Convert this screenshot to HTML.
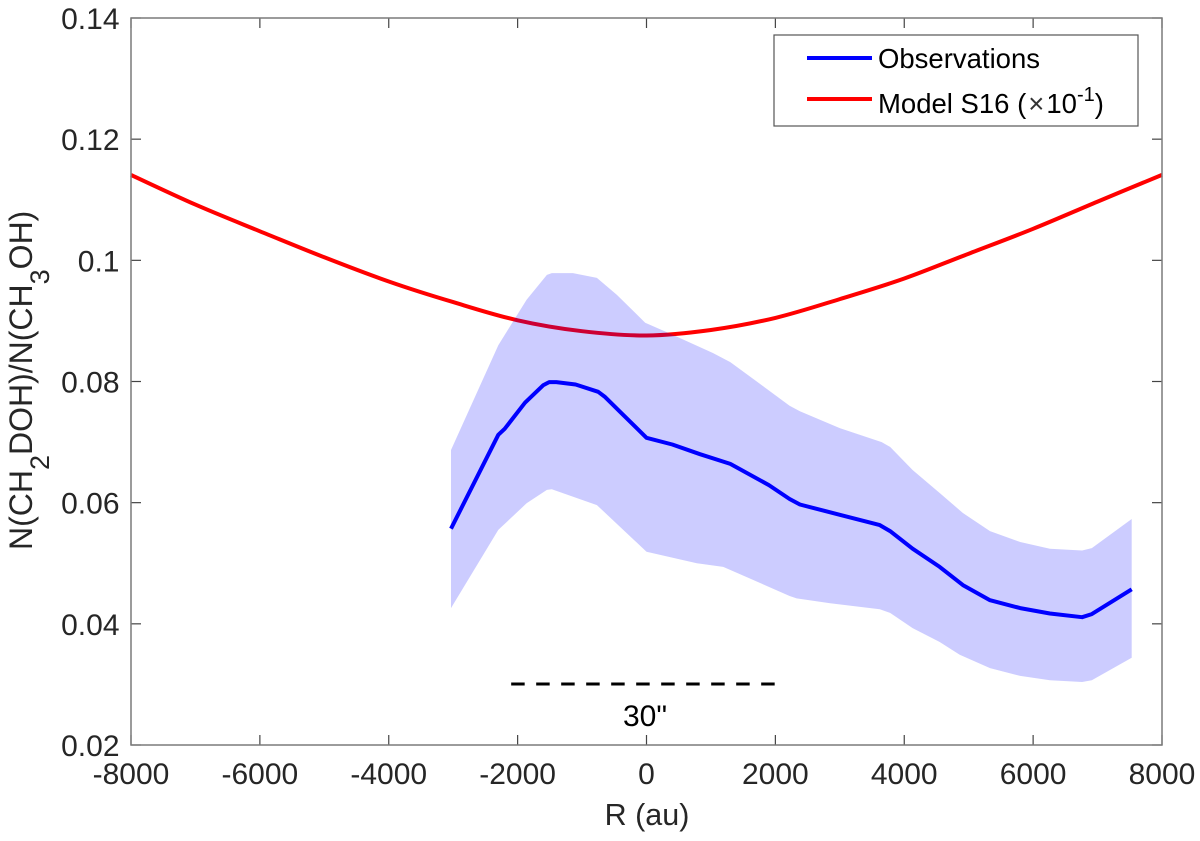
<!DOCTYPE html>
<html lang="en">
<head>
<meta charset="utf-8">
<title>Deuteration ratio profile</title>
<style>
html,body{margin:0;padding:0;background:#fff;}
svg{display:block;font-family:"Liberation Sans",Arial,sans-serif;}
</style>
</head>
<body>
<svg id="chart" xmlns="http://www.w3.org/2000/svg" width="1200" height="841" viewBox="0 0 1200 841">
  <rect x="131" y="18" width="1031" height="727" fill="#fff"/>
  <g id="ticks"></g>
  <path id="model" fill="none" stroke="#ff0000" stroke-width="4" stroke-linejoin="round"/>
  <path id="band" fill="#0000ff" fill-opacity="0.2" stroke="none"/>
  <path id="obs" fill="none" stroke="#0000ff" stroke-width="4" stroke-linejoin="round"/>
  <rect x="131" y="18" width="1031" height="727" fill="none" stroke="#7a7a7a" stroke-width="1.5"/>
  <line id="scale" y1="684" y2="684" stroke="#000" stroke-width="3" stroke-dasharray="13.5 11.5"/>
  <text x="645" y="726" font-size="30" text-anchor="middle" fill="#000">30"</text>
  <text x="647" y="825" font-size="30.5" text-anchor="middle" fill="#262626">R (au)</text>
  <text transform="translate(32,550) rotate(-90)" font-size="32" fill="#262626">N(CH<tspan font-size="27" dy="17">2</tspan><tspan dy="-17">DOH)/N(CH</tspan><tspan font-size="27" dy="17">3</tspan><tspan dy="-17">OH)</tspan></text>
  <g>
    <rect x="774" y="35" width="364" height="91" fill="#fff" stroke="#555" stroke-width="1.2"/>
    <line x1="807" y1="58" x2="872" y2="58" stroke="#0000ff" stroke-width="4"/>
    <text x="878" y="68" font-size="27.5" fill="#000">Observations</text>
    <line x1="807" y1="99" x2="872" y2="99" stroke="#ff0000" stroke-width="4"/>
    <text x="878" y="113" font-size="27.5" fill="#000">Model S16 (<tspan dx="2" fill="#333">×</tspan><tspan dx="2">10</tspan><tspan font-size="20" dy="-12">-1</tspan><tspan dy="12">)</tspan></text>
  </g>
</svg>
<script>
var xTickValues = [-8000, -6000, -4000, -2000, 0, 2000, 4000, 6000, 8000];
var xTickLabels = ["-8000", "-6000", "-4000", "-2000", "0", "2000", "4000", "6000", "8000"];
var yTickValues = [0.02, 0.04, 0.06, 0.08, 0.1, 0.12, 0.14];
var yTickLabels = ["0.02", "0.04", "0.06", "0.08", "0.1", "0.12", "0.14"];

var modelR = [-8000, -7000, -6000, -5000, -4000, -3000, -2000, -1000, 0, 1000, 2000, 3000, 4000, 5000, 6000, 7000, 8000];
var modelValues = [0.1141, 0.1092, 0.1048, 0.1005, 0.0965, 0.0931, 0.0901, 0.0883, 0.0876, 0.0885, 0.0905, 0.0936, 0.0970, 0.1011, 0.1052, 0.1097, 0.1141];

var obsR = [-3034, -2300, -2200, -1885, -1600, -1510, -1400, -1100, -750, -650, -400, 0, 400, 830, 1300, 1900, 2220, 2380, 3000, 3620, 3780, 4130, 4550, 4910, 5330, 5800, 6260, 6760, 6910, 7530];
var obsValues = [0.0557, 0.0712, 0.0722, 0.0765, 0.0794, 0.0799, 0.0799, 0.0795, 0.0783, 0.0775, 0.0749, 0.0707, 0.0696, 0.0680, 0.0664, 0.0629, 0.0606, 0.0597, 0.0580, 0.0563, 0.0553, 0.0524, 0.0494, 0.0464, 0.0439, 0.0426, 0.0417, 0.0411, 0.0416, 0.0457];

var upperR = [-3034, -2300, -1860, -1545, -1470, -1140, -770, -460, -20, 410, 1030, 1300, 1800, 2220, 2380, 3000, 3650, 3780, 4130, 4550, 4910, 5330, 5800, 6260, 6760, 6910, 7530];
var upperValues = [0.0687, 0.0860, 0.0935, 0.0976, 0.0979, 0.0979, 0.0971, 0.0943, 0.0897, 0.0877, 0.0847, 0.0832, 0.0793, 0.0760, 0.0751, 0.0723, 0.0700, 0.0692, 0.0654, 0.0616, 0.0583, 0.0553, 0.0535, 0.0524, 0.0521, 0.0525, 0.0573];

var lowerR = [-3034, -2300, -1860, -1545, -1470, -770, 0, 780, 1190, 1560, 2220, 2330, 2850, 3620, 3780, 4130, 4550, 4860, 5330, 5800, 6260, 6760, 6910, 7530];
var lowerValues = [0.0426, 0.0555, 0.0599, 0.0621, 0.0622, 0.0596, 0.0519, 0.0500, 0.0494, 0.0477, 0.0446, 0.0442, 0.0434, 0.0424, 0.0418, 0.0393, 0.0370, 0.0349, 0.0327, 0.0314, 0.0307, 0.0304, 0.0307, 0.0344];

var scaleBarR = [-2100, 2000];

var NS = "http://www.w3.org/2000/svg";
var plotLeft = 131, plotRight = 1162, plotTop = 18, plotBottom = 745;
function sx(v) { return plotLeft + (v + 8000) / 16000 * (plotRight - plotLeft); }
function sy(v) { return plotBottom - (v - 0.02) / 0.12 * (plotBottom - plotTop); }
function linePath(xs, ys) {
  return xs.map(function (x, i) {
    return (i ? "L" : "M") + sx(x).toFixed(1) + " " + sy(ys[i]).toFixed(1);
  }).join(" ");
}
function smoothPath(xs, ys) {
  var p = xs.map(function (x, i) { return [sx(x), sy(ys[i])]; });
  var d = "M" + p[0][0].toFixed(1) + " " + p[0][1].toFixed(1);
  for (var i = 0; i < p.length - 1; i++) {
    var a = p[Math.max(i - 1, 0)], b = p[i], c = p[i + 1], e = p[Math.min(i + 2, p.length - 1)];
    d += " C" + (b[0] + (c[0] - a[0]) / 6).toFixed(1) + " " + (b[1] + (c[1] - a[1]) / 6).toFixed(1) +
         " " + (c[0] - (e[0] - b[0]) / 6).toFixed(1) + " " + (c[1] - (e[1] - b[1]) / 6).toFixed(1) +
         " " + c[0].toFixed(1) + " " + c[1].toFixed(1);
  }
  return d;
}

document.getElementById("model").setAttribute("d", smoothPath(modelR, modelValues));
document.getElementById("obs").setAttribute("d", linePath(obsR, obsValues));
document.getElementById("band").setAttribute("d",
  linePath(upperR.concat(lowerR.slice().reverse()), upperValues.concat(lowerValues.slice().reverse())) + " Z");

var scale = document.getElementById("scale");
scale.setAttribute("x1", sx(scaleBarR[0]));
scale.setAttribute("x2", sx(scaleBarR[1]));

var tickGroup = document.getElementById("ticks");
function addTick(x1, y1, x2, y2) {
  var t = document.createElementNS(NS, "line");
  t.setAttribute("x1", x1);
  t.setAttribute("y1", y1);
  t.setAttribute("x2", x2);
  t.setAttribute("y2", y2);
  t.setAttribute("stroke", "#444");
  t.setAttribute("stroke-width", "1.2");
  
  
  tickGroup.appendChild(t);
}
function addLabel(x, y, anchor, str) {
  var t = document.createElementNS(NS, "text");
  t.setAttribute("x", x);
  t.setAttribute("y", y);
  t.setAttribute("text-anchor", anchor);
  t.setAttribute("font-size", "30");
  t.setAttribute("fill", "#262626");
  
  
  t.textContent = str;
  tickGroup.appendChild(t);
}
xTickValues.forEach(function (v, i) {
  var x = sx(v);
  addTick(x, plotBottom, x, plotBottom - 10);
  addTick(x, plotTop, x, plotTop + 10);
  addLabel(x, 784, "middle", xTickLabels[i]);
});
yTickValues.forEach(function (v, i) {
  var y = sy(v);
  addTick(plotLeft, y, plotLeft + 10, y);
  addTick(plotRight, y, plotRight - 10, y);
  addLabel(119.5, y + 11, "end", yTickLabels[i]);
});
</script>
</body>
</html>
